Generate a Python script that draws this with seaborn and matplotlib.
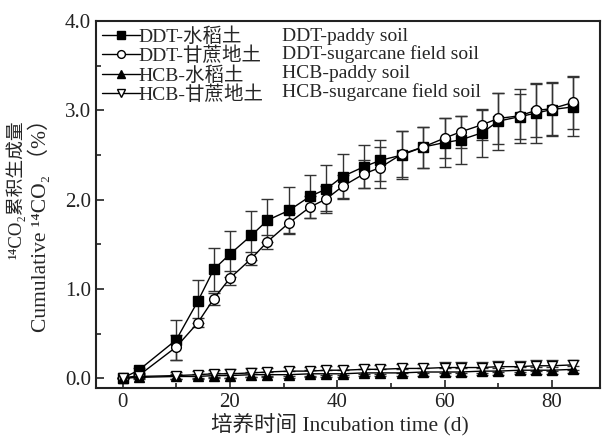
import numpy as np
import pandas as pd
import matplotlib.pyplot as plt
import seaborn as sns
from matplotlib.lines import Line2D
from matplotlib.ticker import MultipleLocator, FormatStrFormatter

sns.set_style('ticks')
plt.rcParams['font.family'] = ['Liberation Serif', 'Noto Sans CJK SC']

# 培养时间 (d)
days = [0, 3, 10, 14, 17, 20, 24, 27, 31, 35, 38, 41, 45, 48,
        52, 56, 60, 63, 67, 70, 74, 77, 80, 84]

# 14CO2 累积生成量 (%)
ddt_paddy = [0.00, 0.09, 0.43, 0.86, 1.22, 1.39, 1.60, 1.77, 1.88, 2.04, 2.12, 2.26,
             2.37, 2.44, 2.50, 2.59, 2.64, 2.67, 2.75, 2.88, 2.93, 2.97, 3.01, 3.04]
ddt_paddy_err = [0.00, 0.03, 0.22, 0.24, 0.24, 0.26, 0.27, 0.24, 0.26, 0.24, 0.27, 0.25,
                 0.24, 0.23, 0.27, 0.23, 0.27, 0.27, 0.27, 0.32, 0.25, 0.34, 0.30, 0.33]
ddt_sugar = [0.00, 0.03, 0.35, 0.62, 0.89, 1.12, 1.34, 1.53, 1.74, 1.92, 2.01, 2.15,
             2.29, 2.36, 2.51, 2.59, 2.69, 2.76, 2.84, 2.91, 2.94, 3.00, 3.02, 3.09]
ddt_sugar_err = [0.00, 0.02, 0.14, 0.05, 0.07, 0.08, 0.07, 0.08, 0.11, 0.12, 0.14, 0.13,
                 0.16, 0.23, 0.26, 0.23, 0.22, 0.18, 0.17, 0.29, 0.30, 0.30, 0.30, 0.30]
hcb_paddy = [0.00, 0.01, 0.02, 0.02, 0.03, 0.03, 0.04, 0.04, 0.04, 0.05, 0.05, 0.05,
             0.06, 0.06, 0.06, 0.07, 0.07, 0.07, 0.08, 0.08, 0.09, 0.09, 0.09, 0.10]
hcb_paddy_err = [0.00, 0.02, 0.03, 0.03, 0.03, 0.03, 0.03, 0.03, 0.04, 0.04, 0.04, 0.04,
                 0.04, 0.04, 0.04, 0.04, 0.04, 0.04, 0.04, 0.04, 0.04, 0.04, 0.04, 0.04]
hcb_sugar = [0.00, 0.02, 0.03, 0.04, 0.05, 0.05, 0.06, 0.07, 0.08, 0.08, 0.09, 0.09,
             0.10, 0.10, 0.11, 0.11, 0.12, 0.12, 0.12, 0.13, 0.13, 0.14, 0.14, 0.15]
hcb_sugar_err = [0.00, 0.02, 0.04, 0.04, 0.04, 0.05, 0.05, 0.05, 0.05, 0.05, 0.05, 0.05,
                 0.05, 0.05, 0.05, 0.05, 0.06, 0.06, 0.06, 0.06, 0.06, 0.06, 0.06, 0.06]

labels_cn = ['DDT-水稻土', 'DDT-甘蔗地土', 'HCB-水稻土', 'HCB-甘蔗地土']
labels_en = ['DDT-paddy soil', 'DDT-sugarcane field soil',
             'HCB-paddy soil', 'HCB-sugarcane field soil']

series = [(ddt_paddy, ddt_paddy_err, 's', 'black'),
          (ddt_sugar, ddt_sugar_err, 'o', 'white'),
          (hcb_paddy, hcb_paddy_err, '^', 'black'),
          (hcb_sugar, hcb_sugar_err, 'v', 'white')]

fig = plt.figure(figsize=(6.02, 4.41), dpi=100)
ax = fig.add_axes([0.159, 0.120, 0.838, 0.832])

handles = []
for (vals, err, mk, fc), lab in zip(series, labels_cn):
    df = pd.DataFrame({'day': days, 'value': vals})
    ax.errorbar(days, vals, yerr=err, fmt='none', ecolor='#333333',
                elinewidth=1, capsize=4, capthick=1, zorder=2)
    sns.lineplot(data=df, x='day', y='value', ax=ax, color='black', lw=1,
                 marker=mk, markersize=7, markerfacecolor=fc,
                 markeredgecolor='black', markeredgewidth=1, zorder=3)
    handles.append(Line2D([], [], color='black', lw=1, marker=mk, markersize=7,
                          markerfacecolor=fc, markeredgecolor='black'))

leg1 = ax.legend(handles, labels_cn, loc='upper left', bbox_to_anchor=(0.0, 1.0),
                 frameon=False, fontsize=14, handlelength=2.0, handletextpad=-0.1,
                 labelspacing=0.05, borderpad=0.2, borderaxespad=0.1, markerscale=0.8)
ax.add_artist(leg1)
blank = [Line2D([], [], lw=0) for _ in labels_en]
ax.legend(blank, labels_en, loc='upper left', bbox_to_anchor=(0.358, 1.0),
          frameon=False, fontsize=14, handlelength=0, handletextpad=0,
          labelspacing=0.05, borderpad=0.2, borderaxespad=0.1)

ax.set_xlim(-5, 89)
ax.set_ylim(-0.11, 4.0)
ax.xaxis.set_major_locator(MultipleLocator(20))
ax.xaxis.set_minor_locator(MultipleLocator(10))
ax.yaxis.set_major_locator(MultipleLocator(1.0))
ax.yaxis.set_minor_locator(MultipleLocator(0.5))
ax.yaxis.set_major_formatter(FormatStrFormatter('%.1f'))
ax.tick_params(which='both', direction='in', top=False, right=False,
               labelsize=15, width=1.2, colors='#222222')
ax.tick_params(which='major', length=6)
ax.tick_params(which='minor', length=3.5)
for s in ax.spines.values():
    s.set_linewidth(1.5)
    s.set_color('#222222')

ax.set_xlabel('培养时间 Incubation time (d)', fontsize=15.5, labelpad=1)
ax.xaxis.label.set_x(0.484)
ax.set_ylabel('')
fig.text(16 / 602, 1 - 190 / 441, '¹⁴CO₂累积生成量', rotation=90,
         ha='center', va='center', fontsize=13.5)
fig.text(40 / 602, 1 - 220 / 441, 'Cumulative ¹⁴CO₂ （%）', rotation=90,
         ha='center', va='center', fontsize=15.5)

fig.savefig('out.png', dpi=100)
